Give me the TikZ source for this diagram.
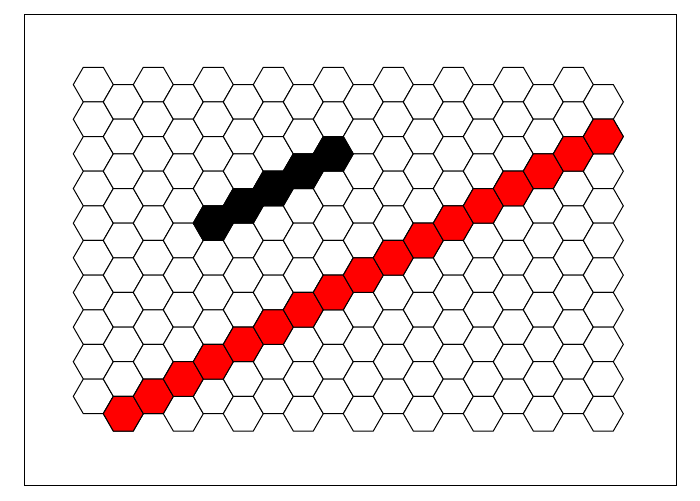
\documentclass[tikz,border=0pt]{standalone}
\begin{document}
\begin{tikzpicture}[x=1pt,y=-1pt,
  hexcell/.style={draw=black,line width=1pt},
  framebox/.style={draw=black,line width=1pt}]
\useasboundingbox (0,0) rectangle (700,500);
\draw[framebox] (24,15) rectangle (676,485);
\newcommand\myhexat[3]{%
  \pgfmathsetmacro\hx{93.3+30*#1}%
  \pgfmathsetmacro\hy{84.6+34.64*#2+17.32*mod(#1,2)}%
  \draw[hexcell,fill=#3,shift={(\hx,\hy)}] (20,0) -- (10,17.32) -- (-10,17.32) -- (-20,0) -- (-10,-17.32) -- (10,-17.32) -- cycle;}
\foreach \c in {0,...,17}{\foreach \r in {0,...,9}{\myhexat{\c}{\r}{white}}}
\foreach \c/\r in {1/9,2/9,3/8,4/8,5/7,6/7,7/6,8/6,9/5,10/5,11/4,12/4,13/3,14/3,15/2,16/2,17/1}{\myhexat{\c}{\r}{red}}
\foreach \c/\r in {4/4,5/3,6/3,7/2,8/2}{\myhexat{\c}{\r}{black}}
\end{tikzpicture}
\end{document}
